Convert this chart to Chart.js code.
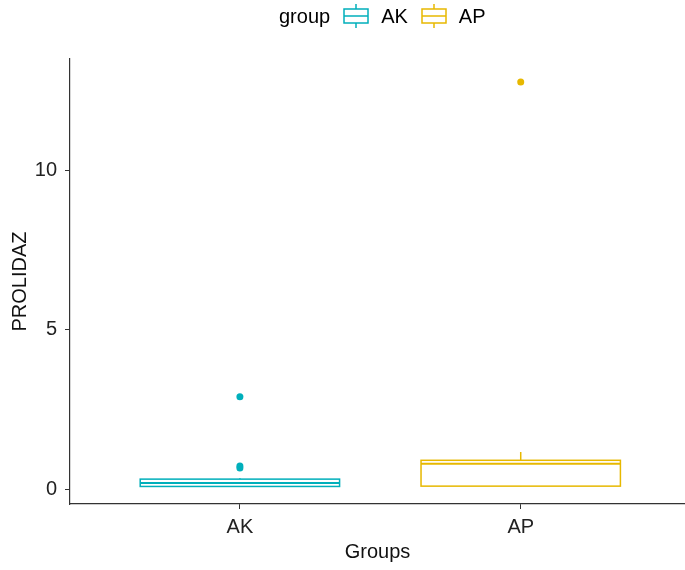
<!DOCTYPE html>
<html lang="en">
<head>
<meta charset="UTF-8">
<title>PROLIDAZ by group</title>
<style>
  * { margin: 0; padding: 0; box-sizing: border-box; }
  body { background: #fff; width: 685px; height: 570px; position: relative; overflow: hidden;
         font-family: "Liberation Sans", Arial, sans-serif; }
  #wrap { position: absolute; left: 0; top: 0; width: 685px; height: 570px; overflow: hidden; }
  #legend { position: absolute; top: 3px; left: 279px; height: 26px; display: flex; align-items: center;
            font-size: 20px; color: #000; white-space: nowrap; }
  #legend .title { margin-right: 13px; }
  #legend svg { margin-right: 12px; }
  #legend .lbl { margin-right: 13px; }
</style>
</head>
<body>
<div id="wrap"><canvas id="myChart" width="689" height="570"></canvas></div>
<div id="legend">
  <span class="title">group</span>
  <svg width="26" height="24" viewBox="0 0 26 24"><g fill="none" stroke="#00AFBB" stroke-width="1.5"><line x1="13" y1="0" x2="13" y2="5"/><rect x="1" y="5" width="24" height="14"/><line x1="1" y1="12" x2="25" y2="12"/><line x1="13" y1="19" x2="13" y2="24"/></g></svg>
  <span class="lbl">AK</span>
  <svg width="26" height="24" viewBox="0 0 26 24"><g fill="none" stroke="#E7B800" stroke-width="1.5"><line x1="13" y1="0" x2="13" y2="5"/><rect x="1" y="5" width="24" height="14"/><line x1="1" y1="12" x2="25" y2="12"/><line x1="13" y1="19" x2="13" y2="24"/></g></svg>
  <span class="lbl">AP</span>
</div>
<script src="https://cdn.jsdelivr.net/npm/chart.js"></script>
<script>
// data
const groups = ['AK', 'AP'];
const colors = ['#00AFBB', '#E7B800'];
const whiskerLow = [0.07, 0.08];
const q1 = [0.08, 0.09];
const median = [0.19, 0.79];
const q3 = [0.31, 0.90];
const whiskerHigh = [0.34, 1.16];
const outliersAK = [2.89, 0.72, 0.66];
const outliersAP = [12.76];
const yTicks = [0, 5, 10];

const boxHalf = 0.355;

// draws the boxes with the chart's scales
const boxPlugin = {
  id: 'boxes',
  beforeDatasetsDraw(chart) {
    const ctx = chart.ctx;
    const x = chart.scales.x, y = chart.scales.y;
    ctx.save();
    ctx.lineWidth = 1.5;
    groups.forEach((g, i) => {
      const cx = x.getPixelForValue(i + 1);
      const l = x.getPixelForValue(i + 1 - boxHalf);
      const r = x.getPixelForValue(i + 1 + boxHalf);
      const top = y.getPixelForValue(q3[i]);
      const bot = y.getPixelForValue(q1[i]);
      const med = y.getPixelForValue(median[i]);
      ctx.strokeStyle = colors[i];
      ctx.beginPath();
      ctx.moveTo(cx, y.getPixelForValue(whiskerHigh[i])); ctx.lineTo(cx, top);
      ctx.moveTo(cx, bot); ctx.lineTo(cx, y.getPixelForValue(whiskerLow[i]));
      ctx.stroke();
      ctx.strokeRect(l, top, r - l, bot - top);
      ctx.beginPath();
      ctx.lineWidth = 2;
      ctx.moveTo(l, med); ctx.lineTo(r, med);
      ctx.stroke();
      ctx.lineWidth = 1.5;
    });
    ctx.restore();
  }
};

const ctx = document.getElementById('myChart').getContext('2d');
new Chart(ctx, {
  type: 'scatter',
  data: {
    datasets: [
      { label: 'AK', data: outliersAK.map(v => ({ x: 1, y: v })), backgroundColor: colors[0], borderColor: colors[0], pointRadius: 3.5, borderWidth: 0 },
      { label: 'AP', data: outliersAP.map(v => ({ x: 2, y: v })), backgroundColor: colors[1], borderColor: colors[1], pointRadius: 3.5, borderWidth: 0 }
    ]
  },
  options: {
    responsive: false,
    animation: false,
    layout: { padding: { top: 59, right: 0, left: 0, bottom: 0 } },
    plugins: { legend: { display: false }, tooltip: { enabled: false } },
    scales: {
      x: {
        type: 'linear', min: 0.395, max: 2.585,
        afterBuildTicks: s => { s.ticks = [{ value: 1 }, { value: 2 }]; },
        afterFit: s => { s.height = 66; },
        ticks: { callback: v => groups[v - 1], color: '#222', font: { family: 'Liberation Sans', size: 20 }, padding: 6, maxRotation: 0 },
        grid: { drawOnChartArea: false, drawTicks: true, tickLength: 5, color: '#333', lineWidth: 1 },
        border: { display: true, color: '#333', width: 1.2 },
        title: { display: true, text: 'Groups', color: '#111', font: { family: 'Liberation Sans', size: 20 }, padding: { top: 0, bottom: 6 } }
      },
      y: {
        min: -0.47, max: 13.48,
        afterBuildTicks: s => { s.ticks = yTicks.map(v => ({ value: v })); },
        afterFit: s => { s.width = 70; },
        ticks: { color: '#222', font: { family: 'Liberation Sans', size: 20 }, padding: 8 },
        grid: { drawOnChartArea: false, drawTicks: true, tickLength: 5, color: '#333', lineWidth: 1 },
        border: { display: true, color: '#333', width: 1.2 },
        title: { display: true, text: 'PROLIDAZ', color: '#111', font: { family: 'Liberation Sans', size: 20 }, padding: { top: 8, bottom: 0 } }
      }
    }
  },
  plugins: [boxPlugin]
});
</script>
</body>
</html>
